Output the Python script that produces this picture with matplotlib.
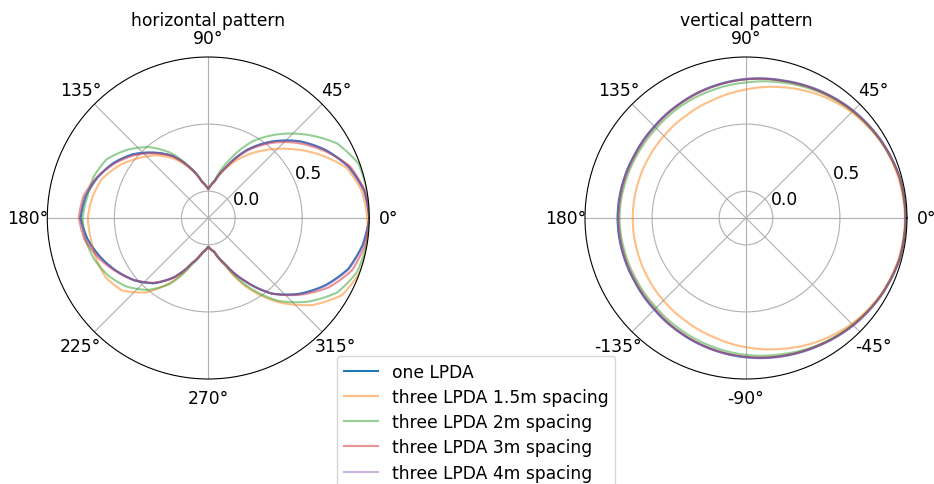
import numpy as np
import matplotlib
matplotlib.use("Agg")
import matplotlib.pyplot as plt

FS = 12.3
plt.rcParams['font.family'] = ['DejaVu Sans']
plt.rcParams['font.size'] = FS

labels = ["one LPDA", "three LPDA 1.5m spacing", "three LPDA 2m spacing",
          "three LPDA 3m spacing", "three LPDA 4m spacing"]
colors = ["C0", "C1", "C2", "C3", "C4"]
alphas = [1.0, 0.5, 0.5, 0.5, 0.5]

# horizontal pattern, azimuth 0..350 deg in 10 deg steps
h_angles_deg = list(range(0, 360, 10))
h_one = [1.0, 0.98, 0.915, 0.812, 0.69, 0.545, 0.39, 0.21, 0.08, 0.015,
         0.075, 0.2, 0.335, 0.437, 0.538, 0.618, 0.68, 0.728, 0.752,
         0.713, 0.655, 0.59, 0.522, 0.435, 0.31, 0.16, 0.065, 0.015,
         0.055, 0.165, 0.34, 0.535, 0.68, 0.805, 0.91, 0.968]
h_15m = [0.985, 0.962, 0.896, 0.75, 0.6, 0.46, 0.33, 0.2, 0.08, 0.015,
         0.075, 0.19, 0.31, 0.41, 0.49, 0.575, 0.645, 0.678, 0.698,
         0.689, 0.688, 0.684, 0.64, 0.525, 0.35, 0.16, 0.06, 0.015,
         0.06, 0.18, 0.41, 0.62, 0.81, 0.95, 1.0, 1.0]
h_2m = [1.0, 1.0, 0.99, 0.91, 0.765, 0.615, 0.46, 0.26, 0.09, 0.015,
        0.08, 0.2, 0.36, 0.49, 0.59, 0.675, 0.708, 0.715, 0.737,
        0.73, 0.704, 0.66, 0.595, 0.5, 0.365, 0.175, 0.065, 0.015,
        0.06, 0.175, 0.39, 0.605, 0.77, 0.91, 0.98, 0.995]
h_3m = [1.0, 0.985, 0.925, 0.8, 0.67, 0.53, 0.38, 0.21, 0.08, 0.015,
        0.075, 0.2, 0.33, 0.43, 0.525, 0.61, 0.685, 0.745, 0.765,
        0.735, 0.67, 0.595, 0.52, 0.43, 0.31, 0.16, 0.065, 0.015,
        0.055, 0.165, 0.34, 0.535, 0.69, 0.835, 0.94, 0.985]
h_4m = [1.0, 0.978, 0.912, 0.81, 0.688, 0.545, 0.39, 0.21, 0.08, 0.015,
        0.075, 0.2, 0.335, 0.435, 0.535, 0.615, 0.68, 0.73, 0.755,
        0.72, 0.66, 0.59, 0.52, 0.435, 0.31, 0.16, 0.065, 0.015,
        0.055, 0.165, 0.34, 0.535, 0.685, 0.81, 0.915, 0.97]

# vertical pattern, 0..345 deg in 15 deg steps
v_angles_deg = list(range(0, 360, 15))
v_one = [0.99, 0.985, 0.96, 0.93, 0.895, 0.86, 0.835, 0.81, 0.785, 0.765,
         0.755, 0.755, 0.757, 0.755, 0.755, 0.765, 0.785, 0.81, 0.837,
         0.865, 0.895, 0.93, 0.96, 0.985]
v_15m = [0.985, 0.975, 0.955, 0.915, 0.865, 0.81, 0.758, 0.715, 0.685,
         0.665, 0.652, 0.645, 0.644, 0.646, 0.655, 0.67, 0.69, 0.72,
         0.763, 0.81, 0.865, 0.915, 0.955, 0.978]
v_2m = [0.99, 0.985, 0.955, 0.925, 0.885, 0.845, 0.81, 0.785, 0.765, 0.745,
        0.738, 0.738, 0.743, 0.738, 0.738, 0.745, 0.765, 0.79, 0.82,
        0.85, 0.89, 0.925, 0.96, 0.985]
v_3m = [0.99, 0.983, 0.957, 0.927, 0.892, 0.858, 0.833, 0.807, 0.782,
        0.761, 0.75, 0.749, 0.75, 0.749, 0.75, 0.76, 0.782, 0.808, 0.835,
        0.863, 0.893, 0.928, 0.958, 0.984]
v_4m = [0.99, 0.986, 0.962, 0.932, 0.898, 0.863, 0.838, 0.812, 0.787,
        0.766, 0.755, 0.754, 0.755, 0.754, 0.756, 0.767, 0.788, 0.813,
        0.84, 0.868, 0.898, 0.933, 0.962, 0.986]

h_series = [h_one, h_15m, h_2m, h_3m, h_4m]
v_series = [v_one, v_15m, v_2m, v_3m, v_4m]

v_tick_deg = [0, 45, 90, 135, 180, 225, 270, 315]
v_tick_labels = ["0°", "45°", "90°", "135°", "180°", "-135°", "-90°", "-45°"]
r_ticks = [0.0, 0.5]


def closed(angles_deg, values):
    th = np.deg2rad(list(angles_deg) + [angles_deg[0] + 360])
    r = list(values) + [values[0]]
    return th, r


fig = plt.figure(figsize=(9.34, 4.85), dpi=100)
ax1 = fig.add_axes([0.0506, 0.2165, 0.3448, 0.6639], projection='polar')
ax2 = fig.add_axes([0.6263, 0.2165, 0.3448, 0.6639], projection='polar')

handles = []
for vals, c, a, lab in zip(h_series, colors, alphas, labels):
    th, r = closed(h_angles_deg, vals)
    ln, = ax1.plot(th, r, color=c, alpha=a, lw=1.5, label=lab)
    ln.get_path()._interpolation_steps = 12
    handles.append(ln)
for vals, c, a, lab in zip(v_series, colors, alphas, labels):
    th, r = closed(v_angles_deg, vals)
    ln, = ax2.plot(th, r, color=c, alpha=a, lw=1.5, label=lab)
    ln.get_path()._interpolation_steps = 12

for ax in (ax1, ax2):
    ax.set_rlim(-0.2, 1.0)
    ax.set_rticks(r_ticks)
    ax.tick_params(labelsize=FS)

ax2.set_thetagrids(v_tick_deg, labels=v_tick_labels)

ax1.set_title("horizontal pattern", fontsize=FS, pad=0.5)
ax2.set_title("vertical pattern", fontsize=FS, pad=0.5)

fig.legend(handles=handles, loc='upper left',
           bbox_to_anchor=(337 / 934, 1 - 357 / 485), fontsize=FS,
           borderaxespad=0.0, labelspacing=0.42)

fig.savefig("out.png", dpi=100)
